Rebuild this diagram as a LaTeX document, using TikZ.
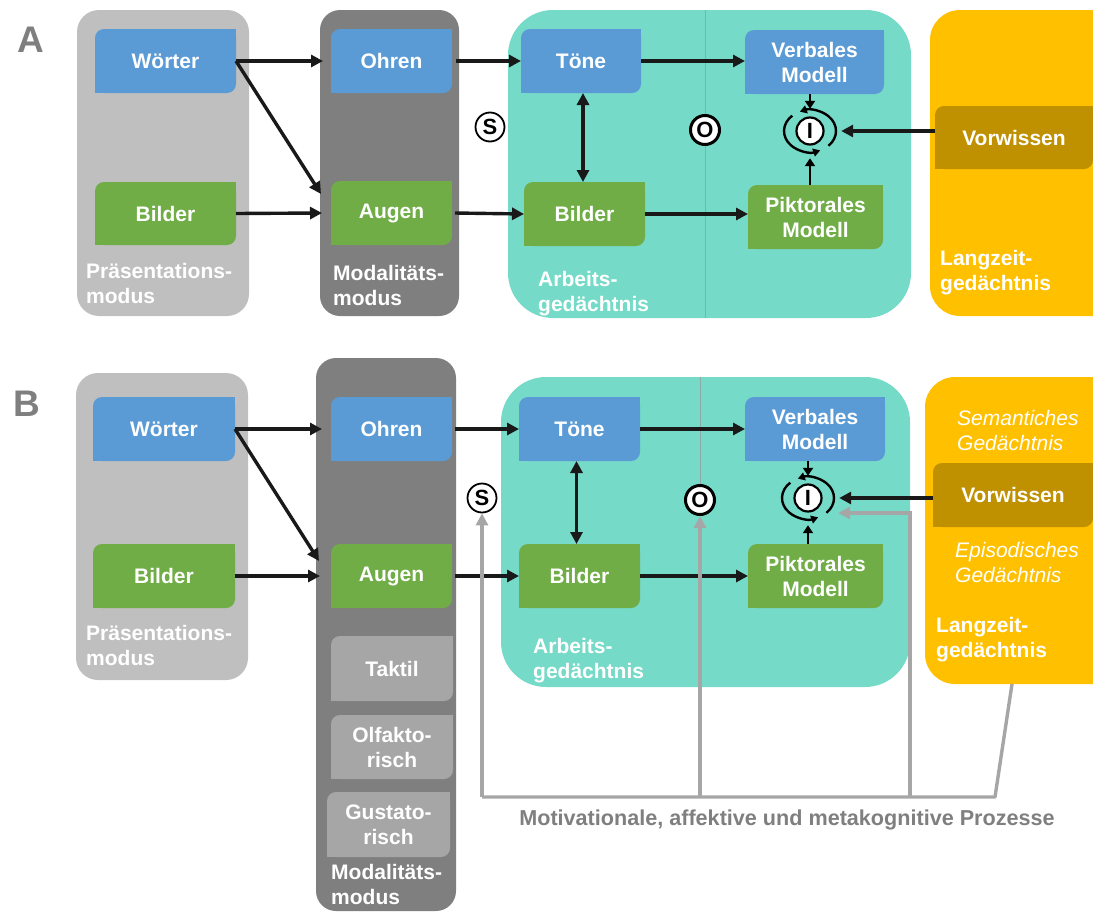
\documentclass[tikz,border=0pt]{standalone}
\usepackage{fontspec}
\setmainfont{Liberation Sans}
\usetikzlibrary{arrows.meta,fit,calc,shapes.geometric}

\definecolor{lgrey}{HTML}{BFBFBF}
\definecolor{dgrey}{HTML}{7F7F7F}
\definecolor{sgrey}{HTML}{A6A6A6}
\definecolor{boxblue}{HTML}{5B9BD5}
\definecolor{boxgreen}{HTML}{70AD47}
\definecolor{agteal}{HTML}{76DAC8}
\definecolor{gold}{HTML}{FFC000}
\definecolor{dgold}{HTML}{BF9000}
\definecolor{tgrey}{HTML}{7F7F7F}
\definecolor{lineg}{HTML}{A6A6A6}
\definecolor{divg}{HTML}{8FAAA4}

% box with rounded top-left and bottom-right corners
% #1 name, #2 x1, #3 y1, #4 x2, #5 y2, #6 colour, #7 text
\newcommand\cbox[7]{%
  \fill[#6, rounded corners=9pt] (#2,#3) rectangle (#4,#5);
  \fill[#6] ({#4-10},#3) rectangle (#4,{#3+10});
  \fill[#6] (#2,{#5-10}) rectangle ({#2+10},#5);
  \node[fit={(#2,#3) (#4,#5)}, inner sep=0pt, outer sep=0pt,
        label={[lbl]center:{#7}}] (#1) {};
}

% two circular arrows round an integration symbol
\newcommand\cycarrows[1]{%
  \draw[cyc] ([shift={(-45:26pt and 21pt)}]#1.center)
    arc[start angle=-45, end angle=113, x radius=26pt, y radius=21pt];
  \draw[cyc] ([shift={(133:26pt and 21pt)}]#1.center)
    arc[start angle=133, end angle=293, x radius=26pt, y radius=21pt];
}

\begin{document}
\begin{tikzpicture}[x=1pt,y=-1pt,
  lbl/.style={text=white, font=\bfseries\fontsize{21}{25}\selectfont, align=center, inner sep=0pt},
  ctext/.style={text=white, font=\bfseries\fontsize{21}{25}\selectfont, align=left, inner sep=0pt, anchor=north west},
  itext/.style={text=white, font=\itshape\fontsize{21}{25}\selectfont, align=left, inner sep=0pt, anchor=north west},
  container/.style={inner sep=0pt, outer sep=0pt, rounded corners=22pt},
  arr/.style={draw=black!90, line width=3.4pt, -{Triangle[length=12pt,width=12pt]}},
  dblarr/.style={draw=black!90, line width=3.4pt, {Triangle[length=12pt,width=12pt]}-{Triangle[length=12pt,width=12pt]}},
  sarr/.style={draw=black, line width=2.6pt, -{Triangle[length=8pt,width=10pt]}},
  cyc/.style={draw=black, line width=2.4pt, -{Triangle[length=7pt,width=8pt]}},
  garr/.style={draw=lineg, line width=3.4pt, -{Triangle[length=12pt,width=12pt]}},
  gline/.style={draw=lineg, line width=3.4pt, line join=round},
  divline/.style={draw=divg, line width=1pt},
  symcirc/.style={circle, draw=black, fill=white, inner sep=0pt, minimum size=29pt,
                  line width=1.8pt, font=\bfseries\fontsize{22}{22}\selectfont},
  ringshape/.style={ellipse, minimum width=52pt, minimum height=42pt, inner sep=0pt},
  panel/.style={text=tgrey, font=\bfseries\fontsize{37}{37}\selectfont, inner sep=0pt}
]
\useasboundingbox (0,0) rectangle (1093,913);
\clip (0,0) rectangle (1093,913);

%================ Panel A ================
\node[panel] (labA) at (31,40) {A};

\node[container, fill=lgrey, fit={(77,10) (249,316)}] (praesA) {};
\node[container, fill=dgrey, rounded corners=20pt, fit={(320,10) (459,316)}] (modA) {};
\node[container, fill=agteal, rounded corners=45pt, fit={(508,10) (911,318)}] (agA) {};
\node[container, fill=gold, rounded corners=30pt, fit={(930,10) (1130,316)}] (ltmA) {};

\coordinate (oApos) at (705,130);
\draw[divline] (oApos |- agA.north) -- (oApos |- agA.south);

\cbox{woerterA}{95}{29}{236}{93}{boxblue}{Wörter}
\cbox{bilderA}{95}{182}{236}{245}{boxgreen}{Bilder}
\cbox{ohrenA}{331}{29}{452}{93}{boxblue}{Ohren}
\cbox{augenA}{331}{181}{452}{245}{boxgreen}{Augen}
\cbox{toeneA}{521}{29}{641}{93}{boxblue}{Töne}
\cbox{bildAGA}{524}{182}{645}{246}{boxgreen}{Bilder}
\cbox{verbA}{745}{30}{884}{94}{boxblue}{Verbales\\Modell}
\cbox{piktA}{748}{185}{883}{249}{boxgreen}{Piktorales\\Modell}
\cbox{vorA}{935}{106}{1093}{169}{dgold}{Vorwissen}

\node[ctext] (praesAt) at (86,263) {Präsentations-\\modus};
\node[ctext] (modAt) at (333,265) {Modalitäts-\\modus};
\node[ctext] (agAt) at (538,271) {Arbeits-\\gedächtnis};
\node[ctext] (ltmAt) at (940,250) {Langzeit-\\gedächtnis};

\node[symcirc] (sA) at (490,127) {S};
\node[symcirc, line width=3pt] (oA) at (oApos) {O};
\node[symcirc, minimum size=27pt, line width=2.2pt] (iA) at (810,131) {I};
\node[ringshape] (ringA) at (iA) {};
\cycarrows{iA}

\draw[arr] (woerterA.east) -- ([xshift=-8pt]ohrenA.west);
\draw[arr] (woerterA.east) -- ($(augenA.west)+(-10,-19)$);
\draw[arr] (bilderA.east) -- ([xshift=-9pt]augenA.west);
\draw[arr] ([xshift=4pt]ohrenA.east) -- (toeneA.west);
\draw[arr] ([xshift=3pt]augenA.east) -- (bildAGA.west);
\draw[arr] (toeneA.east) -- (verbA.west |- toeneA.east);
\draw[arr] (bildAGA.east) -- (piktA.west |- bildAGA.east);
\draw[dblarr] ($(toeneA.south)+(2,0)$) -- ($(toeneA.south |- bildAGA.north)+(2,0)$);
\draw[sarr] (ringA.north |- verbA.south) -- ([yshift=1pt]ringA.north);
\draw[sarr] (ringA.south |- piktA.north) -- ([yshift=-6pt]ringA.south);
\draw[arr] (vorA.west |- ringA.east) -- ([xshift=5pt]ringA.east);

%================ Panel B ================
\node[panel] (labB) at (27,404) {B};

\node[container, fill=lgrey, fit={(76,373) (248,680)}] (praesB) {};
\node[container, fill=dgrey, rounded corners=20pt, fit={(316,358) (456,911)}] (modB) {};
\node[container, fill=agteal, rounded corners=45pt, fit={(501,377) (910,687)}] (agB) {};
\node[container, fill=gold, rounded corners=30pt, fit={(925,377) (1130,684)}] (ltmB) {};

\coordinate (oBpos) at (700,500);
\draw[divline] (oBpos |- agB.north) -- (oBpos);

\cbox{woerterB}{93}{397}{235}{461}{boxblue}{Wörter}
\cbox{bilderB}{93}{544}{235}{608}{boxgreen}{Bilder}
\cbox{ohrenB}{331}{397}{452}{461}{boxblue}{Ohren}
\cbox{augenB}{331}{544}{452}{608}{boxgreen}{Augen}
\cbox{taktil}{331}{636}{453}{701}{sgrey}{Taktil}
\cbox{olfakt}{331}{715}{453}{779}{sgrey}{Olfakto-\\risch}
\cbox{gustat}{327}{792}{450}{857}{sgrey}{Gustato-\\risch}
\cbox{toeneB}{519}{397}{640}{461}{boxblue}{Töne}
\cbox{bildAGB}{519}{544}{640}{608}{boxgreen}{Bilder}
\cbox{verbB}{745}{397}{885}{461}{boxblue}{Verbales\\Modell}
\cbox{piktB}{748}{544}{883}{608}{boxgreen}{Piktorales\\Modell}
\cbox{vorB}{933}{463}{1093}{527}{dgold}{Vorwissen}

\node[ctext] (praesBt) at (86,625) {Präsentations-\\modus};
\node[ctext] (modBt) at (331,864) {Modalitäts-\\modus};
\node[ctext] (agBt) at (533,638) {Arbeits-\\gedächtnis};
\node[itext] (semt) at (957,410) {Semantiches\\Gedächtnis};
\node[itext] (epit) at (955,542) {Episodisches\\Gedächtnis};
\node[ctext] (ltmBt) at (936,617) {Langzeit-\\gedächtnis};

\node[symcirc] (sB) at (482,498) {S};
\node[symcirc, line width=3pt] (oB) at (oBpos) {O};
\node[symcirc, minimum size=27pt, line width=2.2pt] (iB) at (808,498) {I};
\node[ringshape] (ringB) at (iB) {};
\cycarrows{iB}

\draw[arr] (woerterB.east) -- ([xshift=-9pt]ohrenB.west);
\draw[arr] (woerterB.east) -- ($(augenB.west)+(-12,-15)$);
\draw[arr] (bilderB.east) -- ([xshift=-11pt]augenB.west);
\draw[arr] ([xshift=3pt]ohrenB.east) -- (toeneB.west);
\draw[arr] ([xshift=3pt]augenB.east) -- (bildAGB.west);
\draw[arr] (toeneB.east) -- (verbB.west |- toeneB.east);
\draw[arr] (bildAGB.east) -- (piktB.west |- bildAGB.east);
\draw[dblarr] ($(toeneB.south)+(-3,0)$) -- ($(toeneB.south |- bildAGB.north)+(-3,0)$);
\draw[sarr] (ringB.north |- verbB.south) -- ([yshift=1pt]ringB.north);
\draw[sarr] (ringB.south |- piktB.north) -- ([yshift=-6pt]ringB.south);
\draw[arr] (vorB.west |- ringB.east) -- ([xshift=5pt]ringB.east);

% feedback from motivational, affective and metacognitive processes
\coordinate (g1) at (482,797);
\coordinate (g2) at (700,797);
\coordinate (g3) at (910,797);
\coordinate (g4) at (995,797);
\coordinate (g5) at (1012,684);
\coordinate (g6) at ($(ringB.east)+(4,15)$);
\draw[gline] (g5) -- (g4) -- (g1);
\draw[garr] (g1) -- (sB.south);
\draw[garr] (g2) -- (oB.south);
\draw[garr] (g3) |- (g6);

\node[text=tgrey, font=\bfseries\fontsize{21.6}{21.6}\selectfont, inner sep=0pt] (motiv) at (787,820)
  {Motivationale, affektive und metakognitive Prozesse};

\end{tikzpicture}
\end{document}
